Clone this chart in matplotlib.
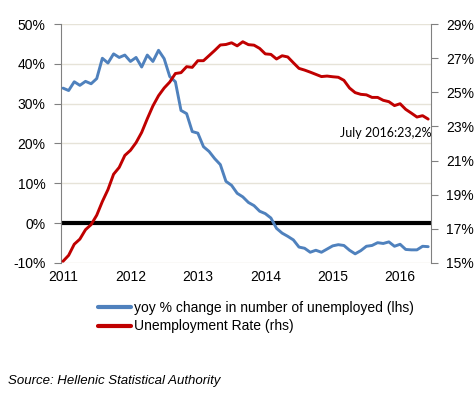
import matplotlib
matplotlib.use("Agg")
import matplotlib.pyplot as plt
import numpy as np

plt.rcParams['font.family'] = ['Liberation Sans', 'DejaVu Sans']

years = ['2011', '2012', '2013', '2014', '2015', '2016']
yoy_change = [33.9, 33.3, 35.5, 34.6, 35.6, 35.0, 36.3, 41.4, 40.2, 42.5,
              41.6, 42.2, 40.6, 41.6, 39.2, 42.2, 40.6, 43.4, 41.3, 36.8,
              35.5, 28.3, 27.5, 23.0, 22.6, 19.2, 18.0, 16.2, 14.7, 10.5,
              9.5, 7.5, 6.6, 5.2, 4.4, 3.0, 2.4, 1.3, -1.3, -2.5,
              -3.3, -4.2, -6.0, -6.3, -7.3, -6.8, -7.3, -6.5, -5.7, -5.4,
              -5.6, -6.8, -7.7, -6.9, -5.8, -5.6, -4.9, -5.1, -4.7, -5.8,
              -5.3, -6.6, -6.7, -6.7, -5.8, -5.9]
unemp_rate = [15.1, 15.45, 16.1, 16.4, 16.95, 17.25, 17.8, 18.6, 19.3, 20.2,
              20.6, 21.3, 21.6, 22.05, 22.65, 23.45, 24.2, 24.8, 25.25, 25.6,
              26.1, 26.15, 26.5, 26.46, 26.85, 26.85, 27.15, 27.45, 27.77, 27.8,
              27.9, 27.72, 27.96, 27.79, 27.76, 27.57, 27.25, 27.22, 26.95, 27.14,
              27.07, 26.73, 26.4, 26.3, 26.18, 26.05, 25.92, 25.95, 25.91, 25.88,
              25.7, 25.25, 24.98, 24.88, 24.85, 24.7, 24.7, 24.53, 24.45, 24.22,
              24.33, 24.0, 23.78, 23.55, 23.63, 23.43]
left_ticks = [-10, 0, 10, 20, 30, 40, 50]
right_ticks = [15, 17, 19, 21, 23, 25, 27, 29]
annotation = 'July 2016:23,2%'

blue = '#4F81BD'
red = '#C00000'

fig = plt.figure(figsize=(4.77, 3.94), dpi=100)
ax = fig.add_axes([61/477, 1-263/394, 370/477, 239/394])
ax2 = ax.twinx()

x = np.arange(len(yoy_change))
ax.set_xlim(-0.36, 65.5)
ax.set_ylim(-10, 50)
ax2.set_ylim(15, 29)

for t in left_ticks:
    ax.axhline(t, color='#E6E3D8', lw=1, zorder=0)
ax.axhline(0, color='black', lw=3, zorder=2)

ax.plot(x, yoy_change, color=blue, lw=2.1, zorder=3, solid_capstyle='round',
        solid_joinstyle='round', label='yoy % change in number of unemployed (lhs)')
ax2.plot(x, unemp_rate, color=red, lw=2.1, zorder=3, solid_capstyle='round',
         solid_joinstyle='round', label='Unemployment Rate (rhs)')

ax.set_yticks(left_ticks)
ax.set_yticklabels([f'{t}%' for t in left_ticks])
ax2.set_yticks(right_ticks)
ax2.set_yticklabels([f'{t}%' for t in right_ticks])
ax.set_xticks([12 * i for i in range(len(years))])
ax.set_xticklabels(years)

for a in (ax, ax2):
    a.spines['top'].set_visible(False)
    a.spines['bottom'].set_visible(False)
ax.spines['right'].set_visible(False)
ax2.spines['left'].set_visible(False)
ax.spines['left'].set_color('#808080')
ax2.spines['right'].set_color('#808080')

ax.tick_params(axis='y', length=5, color='#808080', labelsize=10, pad=6)
ax2.tick_params(axis='y', length=5, color='#808080', labelsize=10, pad=6)
ax.tick_params(axis='x', length=0, labelsize=10, pad=5)

ax2.text(65.6, 22.95, annotation, ha='right', va='top', fontsize=9,
         family=['Lato', 'DejaVu Sans'])

h1, l1 = ax.get_legend_handles_labels()
h2, l2 = ax2.get_legend_handles_labels()
fig.legend(h1 + h2, l1 + l2, loc='upper left', bbox_to_anchor=(92/477, 1-295/394),
           frameon=False, fontsize=10, handlelength=2.4, handletextpad=0.2,
           labelspacing=0.35, borderaxespad=0)
for lh in fig.legends[0].get_lines():
    lh.set_linewidth(3)

fig.text(8/477, 1-381/394, 'Source: Hellenic Statistical Authority', fontsize=9.5,
         style='italic', va='center', ha='left')

fig.savefig('out.png', dpi=100)
